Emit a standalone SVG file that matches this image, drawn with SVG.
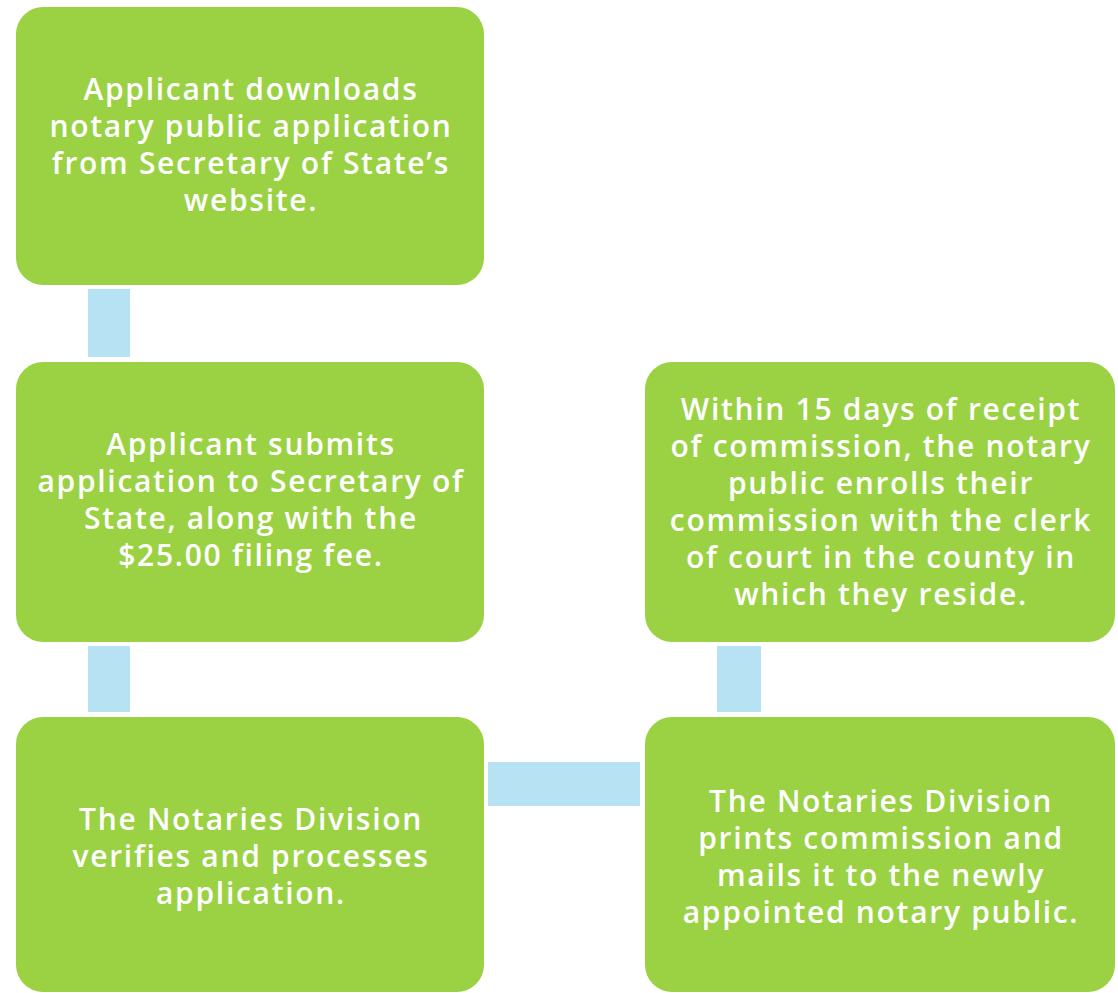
<svg xmlns="http://www.w3.org/2000/svg" width="1118" height="993" viewBox="0 0 1118 993">
<style>
.box{fill:#9AD244;}
.conn{fill:#B6E2F4;}
.t{font-family:"Open Sans","Liberation Sans",sans-serif;font-weight:600;font-size:30px;letter-spacing:1.7px;fill:#FFFFFF;text-anchor:middle;}
</style>
<rect width="1118" height="993" fill="#FFFFFF"/>
<g id="connectors">
<rect class="conn" x="88" y="289" width="42" height="68"/>
<rect class="conn" x="88" y="646" width="42" height="66"/>
<rect class="conn" x="488" y="762" width="152" height="44"/>
<rect class="conn" x="717" y="646" width="44" height="66"/>
</g>
<g id="node1">
<rect class="box" x="16" y="7" width="468" height="278" rx="27"/>
<text class="t"><tspan x="251" y="100">Applicant downloads</tspan><tspan x="251" y="137">notary public application</tspan><tspan x="251" y="174">from Secretary of State’s</tspan><tspan x="251" y="211">website.</tspan></text>
</g>
<g id="node2">
<rect class="box" x="16" y="362" width="468" height="280" rx="27"/>
<text class="t"><tspan x="251" y="455">Applicant submits</tspan><tspan x="251" y="492">application to Secretary of</tspan><tspan x="251" y="529">State, along with the</tspan><tspan x="251" y="566">$25.00 filing fee.</tspan></text>
</g>
<g id="node3">
<rect class="box" x="16" y="717" width="468" height="275" rx="27"/>
<text class="t"><tspan x="251" y="830">The Notaries Division</tspan><tspan x="251" y="867">verifies and processes</tspan><tspan x="251" y="904">application.</tspan></text>
</g>
<g id="node4">
<rect class="box" x="645" y="717" width="470" height="275" rx="27"/>
<text class="t"><tspan x="881" y="812">The Notaries Division</tspan><tspan x="881" y="849">prints commission and</tspan><tspan x="881" y="886">mails it to the newly</tspan><tspan x="881" y="923">appointed notary public.</tspan></text>
</g>
<g id="node5">
<rect class="box" x="645" y="362" width="470" height="280" rx="27"/>
<text class="t"><tspan x="881" y="420">Within 15 days of receipt</tspan><tspan x="881" y="457">of commission, the notary</tspan><tspan x="881" y="494">public enrolls their</tspan><tspan x="881" y="531">commission with the clerk</tspan><tspan x="881" y="568">of court in the county in</tspan><tspan x="881" y="605">which they reside.</tspan></text>
</g>
</svg>
